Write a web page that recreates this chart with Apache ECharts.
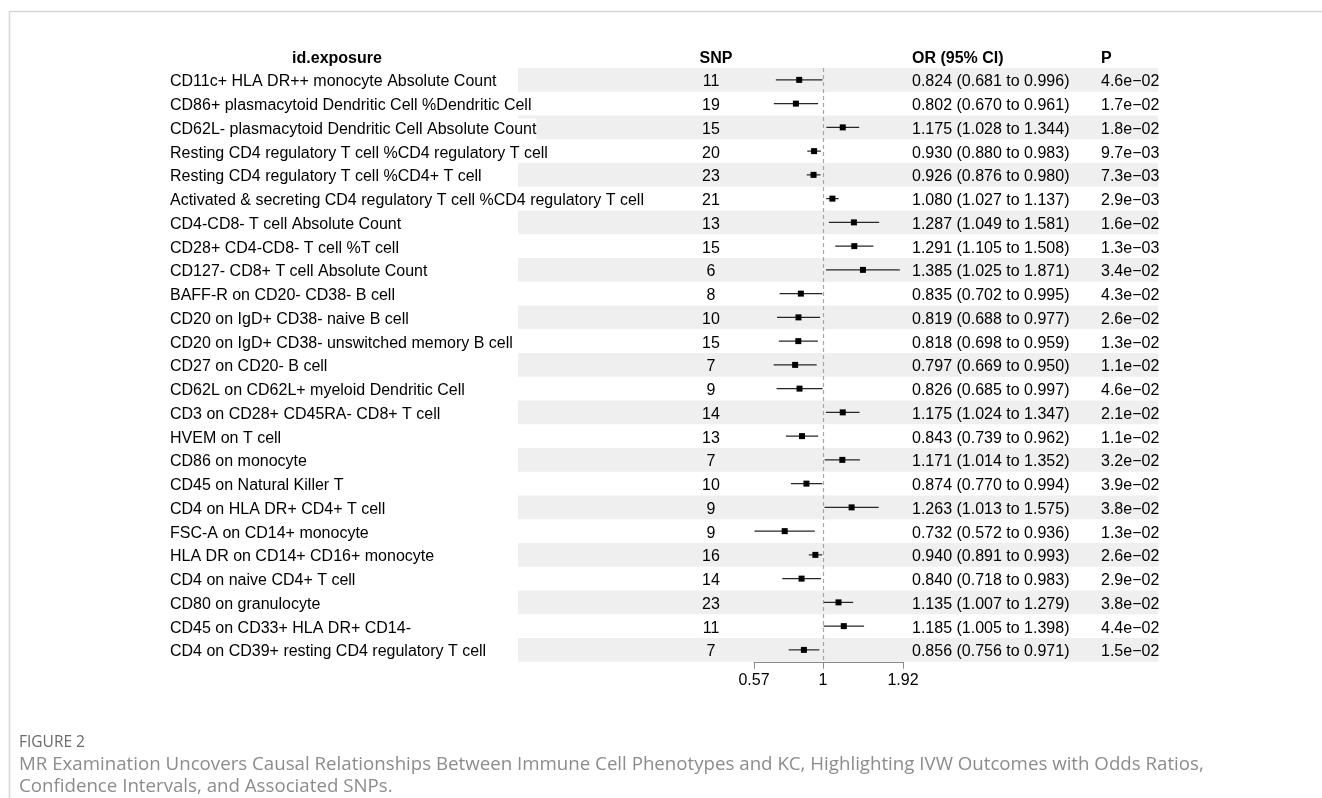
<!DOCTYPE html>
<html>
<head>
<meta charset="utf-8">
<script src="https://cdn.jsdelivr.net/npm/echarts@6/dist/echarts.min.js"></script>
<style>
  html, body { margin: 0; padding: 0; background: #ffffff; }
  #chart { width: 1322px; height: 798px; }
</style>
</head>
<body>
<div id="chart"></div>
<script>
// Immune cell phenotypes and their IVW estimates
const exposures = [
  'CD11c+ HLA DR++ monocyte Absolute Count',
  'CD86+ plasmacytoid Dendritic Cell %Dendritic Cell',
  'CD62L- plasmacytoid Dendritic Cell Absolute Count',
  'Resting CD4 regulatory T cell %CD4 regulatory T cell',
  'Resting CD4 regulatory T cell %CD4+ T cell',
  'Activated & secreting CD4 regulatory T cell %CD4 regulatory T cell',
  'CD4-CD8- T cell Absolute Count',
  'CD28+ CD4-CD8- T cell %T cell',
  'CD127- CD8+ T cell Absolute Count',
  'BAFF-R on CD20- CD38- B cell',
  'CD20 on IgD+ CD38- naive B cell',
  'CD20 on IgD+ CD38- unswitched memory B cell',
  'CD27 on CD20- B cell',
  'CD62L on CD62L+ myeloid Dendritic Cell',
  'CD3 on CD28+ CD45RA- CD8+ T cell',
  'HVEM on T cell',
  'CD86 on monocyte',
  'CD45 on Natural Killer T',
  'CD4 on HLA DR+ CD4+ T cell',
  'FSC-A on CD14+ monocyte',
  'HLA DR on CD14+ CD16+ monocyte',
  'CD4 on naive CD4+ T cell',
  'CD80 on granulocyte',
  'CD45 on CD33+ HLA DR+ CD14-',
  'CD4 on CD39+ resting CD4 regulatory T cell'
];
const snpCounts = [11, 19, 15, 20, 23, 21, 13, 15, 6, 8, 10, 15, 7, 9, 14, 13, 7, 10, 9, 9, 16, 14, 23, 11, 7];
const orValues = [0.824, 0.802, 1.175, 0.930, 0.926, 1.080, 1.287, 1.291, 1.385, 0.835, 0.819, 0.818, 0.797, 0.826, 1.175, 0.843, 1.171, 0.874, 1.263, 0.732, 0.940, 0.840, 1.135, 1.185, 0.856];
const ciLower = [0.681, 0.670, 1.028, 0.880, 0.876, 1.027, 1.049, 1.105, 1.025, 0.702, 0.688, 0.698, 0.669, 0.685, 1.024, 0.739, 1.014, 0.770, 1.013, 0.572, 0.891, 0.718, 1.007, 1.005, 0.756];
const ciUpper = [0.996, 0.961, 1.344, 0.983, 0.980, 1.137, 1.581, 1.508, 1.871, 0.995, 0.977, 0.959, 0.950, 0.997, 1.347, 0.962, 1.352, 0.994, 1.575, 0.936, 0.993, 0.983, 1.279, 1.398, 0.971];
const pValues = ['4.6e\u221202', '1.7e\u221202', '1.8e\u221202', '9.7e\u221203', '7.3e\u221203', '2.9e\u221203', '1.6e\u221202', '1.3e\u221203', '3.4e\u221202', '4.3e\u221202', '2.6e\u221202', '1.3e\u221202', '1.1e\u221202', '4.6e\u221202', '2.1e\u221202', '1.1e\u221202', '3.2e\u221202', '3.9e\u221202', '3.8e\u221202', '1.3e\u221202', '2.6e\u221202', '2.9e\u221202', '3.8e\u221202', '4.4e\u221202', '1.5e\u221202'];
const axisTicks = [0.57, 1, 1.92];
const headers = ['id.exposure', 'SNP', 'OR (95% CI)', 'P'];
const captionLabel = 'FIGURE 2';
const captionLines = [
  'MR Examination Uncovers Causal Relationships Between Immune Cell Phenotypes and KC, Highlighting IVW Outcomes with Odds Ratios,',
  'Confidence Intervals, and Associated SNPs.'
];

const FONT = '"Liberation Sans", Arial, Helvetica, sans-serif';
const FS = 16;
const TEXT = '#000000';
const ROW_TOP = 68;
const ROW_H = 23.75;
const TEXT_DY = 2;
const HEADER_Y = 59;
const COL = { name: 170, snp: 711, or: 912, p: 1101, bandLeft: 518, bandRight: 1158, header: 337 };

const rowIndex = exposures.map((_, i) => i);
const fmt3 = v => v.toFixed(3);

const chart = echarts.init(document.getElementById('chart'), null, { renderer: 'canvas' });

const option = {
  animation: false,
  backgroundColor: '#ffffff',
  grid: { left: 754, width: 149, top: ROW_TOP, height: ROW_H * exposures.length, containLabel: false },
  xAxis: {
    type: 'log',
    logBase: 10,
    min: axisTicks[0],
    max: axisTicks[axisTicks.length - 1],
    axisLine: { show: true, lineStyle: { color: '#8a8a8a', width: 1 } },
    axisTick: { show: true, customValues: axisTicks, length: 7, lineStyle: { color: '#8a8a8a' } },
    axisLabel: {
      customValues: axisTicks,
      margin: 11,
      fontFamily: FONT,
      fontSize: FS,
      color: TEXT,
      formatter: v => String(axisTicks.reduce((a, b) => Math.abs(b - v) < Math.abs(a - v) ? b : a))
    },
    splitLine: { show: false },
    minorTick: { show: false }
  },
  yAxis: {
    type: 'category',
    data: exposures,
    inverse: true,
    show: false
  },
  graphic: [
    // card border
    { type: 'polyline', silent: true, shape: { points: [[9.5, 798], [9.5, 11.5], [1322, 11.5]] }, style: { stroke: '#d6d6d6', lineWidth: 1.5, fill: null } },
    // column headers
    { type: 'text', x: COL.header, y: HEADER_Y, style: { text: headers[0], font: `bold ${FS}px ${FONT}`, fill: TEXT, align: 'center', verticalAlign: 'middle' } },
    { type: 'text', x: COL.snp + 5, y: HEADER_Y, style: { text: headers[1], font: `bold ${FS}px ${FONT}`, fill: TEXT, align: 'center', verticalAlign: 'middle' } },
    { type: 'text', x: COL.or, y: HEADER_Y, style: { text: headers[2], font: `bold ${FS}px ${FONT}`, fill: TEXT, align: 'left', verticalAlign: 'middle' } },
    { type: 'text', x: COL.p, y: HEADER_Y, style: { text: headers[3], font: `bold ${FS}px ${FONT}`, fill: TEXT, align: 'left', verticalAlign: 'middle' } },
    // caption
    { type: 'text', x: 19, y: 743, style: { text: captionLabel, font: `15.5px "Open Sans", sans-serif`, fill: '#6a6a6a', verticalAlign: 'middle' } },
    { type: 'text', x: 19, y: 765, style: { text: captionLines[0], font: `18.7px "Open Sans", sans-serif`, fill: '#8c8c8c', verticalAlign: 'middle' } },
    { type: 'text', x: 19, y: 787, style: { text: captionLines[1], font: `18.7px "Open Sans", sans-serif`, fill: '#8c8c8c', verticalAlign: 'middle' } }
  ],
  series: [
    {
      // table rows: shading and text columns
      type: 'custom',
      z: 1,
      silent: true,
      clip: false,
      data: rowIndex.map(i => [1, i]),
      encode: { x: 0, y: 1 },
      renderItem(params, api) {
        const i = api.value(1);
        const y = api.coord([1, i])[1];
        const h = api.size([0, 1])[1];
        const ty = y + TEXT_DY;
        const children = [];
        if (i % 2 === 0) {
          children.push({ type: 'rect', shape: { x: COL.bandLeft, y: y - h / 2, width: COL.bandRight - COL.bandLeft, height: h }, style: { fill: '#efefef' } });
        }
        children.push({ type: 'text', x: COL.name, y: ty, style: { text: exposures[i], font: `${FS}px ${FONT}`, fill: TEXT, align: 'left', verticalAlign: 'middle', backgroundColor: '#ffffff', padding: [3, 0, 3, 0] } });
        children.push({ type: 'text', x: COL.snp, y: ty, style: { text: String(snpCounts[i]), font: `${FS}px ${FONT}`, fill: TEXT, align: 'center', verticalAlign: 'middle' } });
        children.push({ type: 'text', x: COL.or, y: ty, style: { text: `${fmt3(orValues[i])} (${fmt3(ciLower[i])} to ${fmt3(ciUpper[i])})`, font: `${FS}px ${FONT}`, fill: TEXT, align: 'left', verticalAlign: 'middle' } });
        children.push({ type: 'text', x: COL.p, y: ty, style: { text: pValues[i], font: `${FS}px ${FONT}`, fill: TEXT, align: 'left', verticalAlign: 'middle' } });
        return { type: 'group', children };
      }
    },
    {
      // null-effect reference line at OR = 1
      type: 'custom',
      z: 2,
      silent: true,
      clip: false,
      data: [[1, 0, exposures.length - 1]],
      encode: { x: 0, y: [1, 2] },
      renderItem(params, api) {
        const h = api.size([0, 1])[1];
        const top = api.coord([api.value(0), api.value(1)]);
        const bottom = api.coord([api.value(0), api.value(2)]);
        return {
          type: 'line',
          shape: { x1: Math.round(top[0]) + 0.5, y1: top[1] - h / 2, x2: Math.round(top[0]) + 0.5, y2: bottom[1] + h / 2 },
          style: { stroke: '#a6a6a6', lineWidth: 1.2, lineDash: [4, 3] }
        };
      }
    },
    {
      // odds ratios with 95% confidence intervals
      type: 'custom',
      z: 3,
      silent: true,
      clip: false,
      data: rowIndex.map(i => [ciLower[i], ciUpper[i], orValues[i], i]),
      encode: { x: [0, 1, 2], y: 3 },
      renderItem(params, api) {
        const i = api.value(3);
        const lo = api.coord([api.value(0), i]);
        const hi = api.coord([api.value(1), i]);
        const mid = api.coord([api.value(2), i]);
        const s = 6;
        return {
          type: 'group',
          children: [
            { type: 'line', shape: { x1: lo[0], y1: lo[1], x2: hi[0], y2: hi[1] }, style: { stroke: '#262626', lineWidth: 1.2 } },
            { type: 'rect', shape: { x: mid[0] - s / 2, y: mid[1] - s / 2, width: s, height: s }, style: { fill: '#000000' } }
          ]
        };
      }
    }
  ]
};

chart.setOption(option);
</script>
</body>
</html>
